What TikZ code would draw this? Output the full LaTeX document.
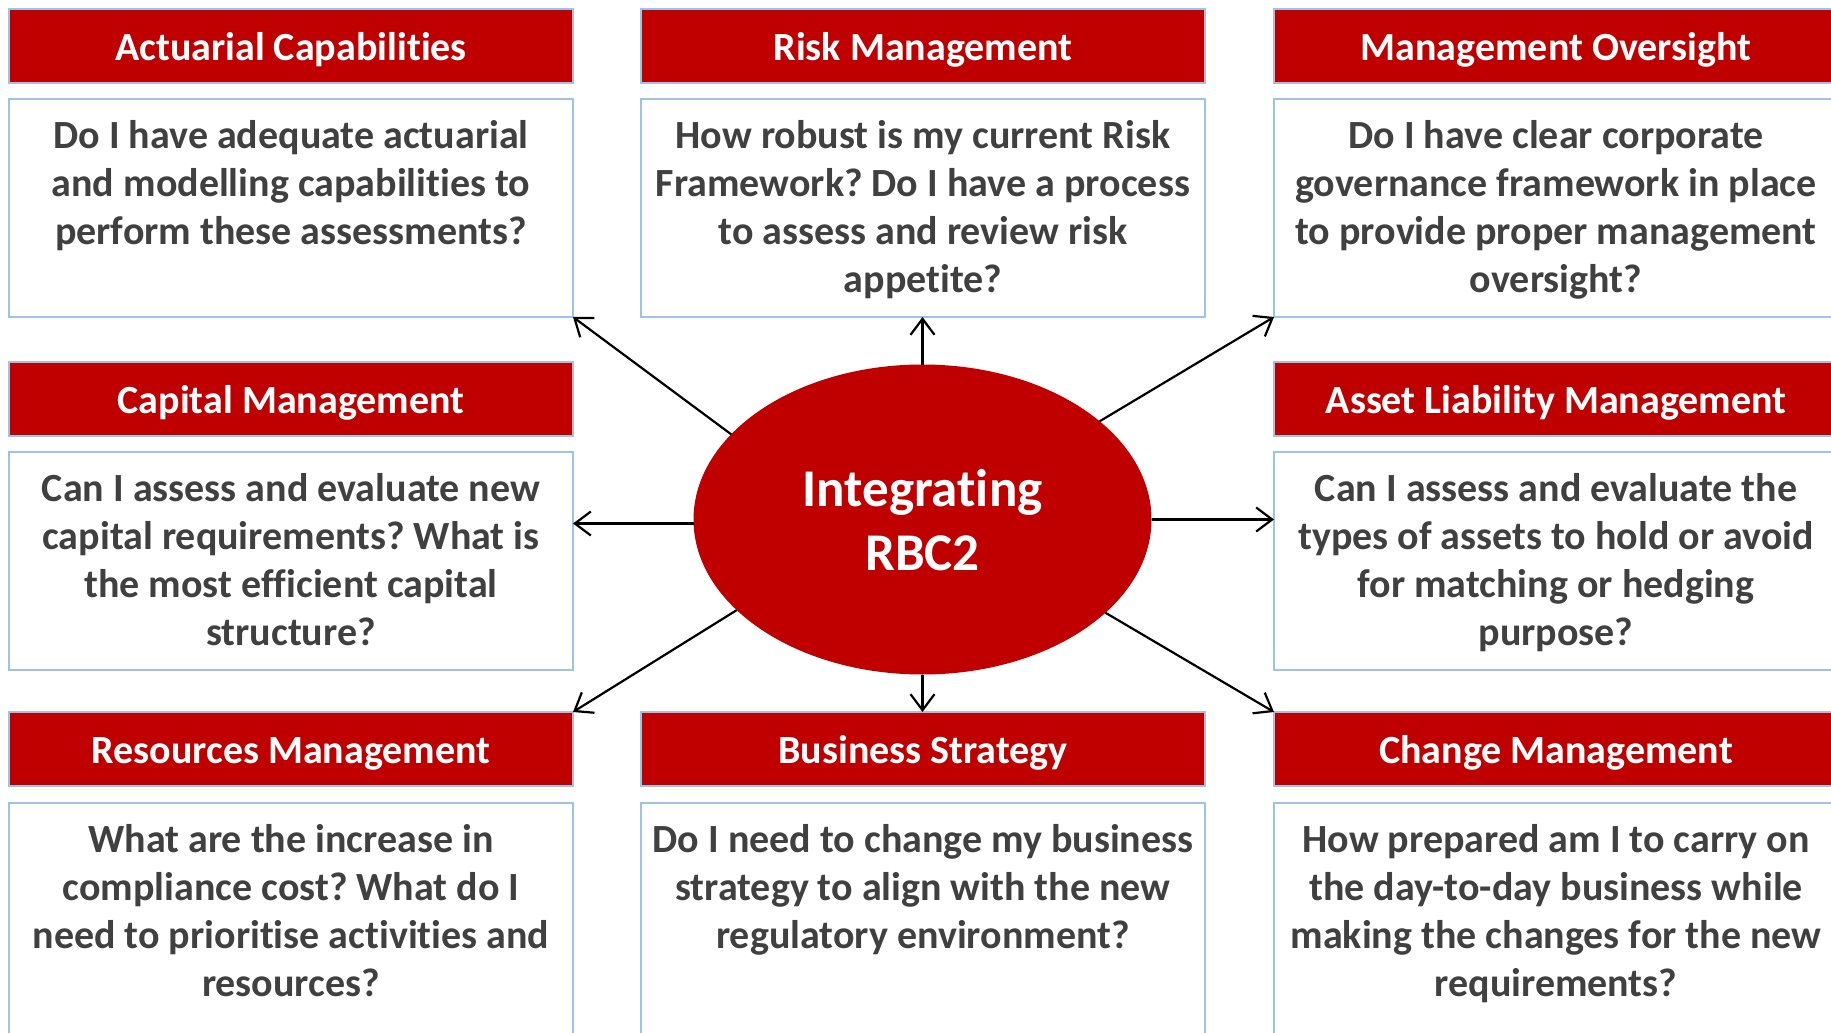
\documentclass[tikz,border=0pt]{standalone}
\usepackage{fontspec}
\setmainfont{Carlito}[Ligatures=NoCommon]
\usetikzlibrary{arrows.meta,shapes.geometric}
\definecolor{hdrred}{RGB}{192,0,0}
\definecolor{bordblue}{RGB}{157,195,230}
\definecolor{txtgray}{RGB}{64,64,64}
\frenchspacing
\begin{document}
\begin{tikzpicture}[x=1pt,y=-1pt,
  hdr/.style={draw=bordblue, line width=1.8pt, fill=hdrred, minimum width=564pt, minimum height=74pt,
    anchor=north west, inner sep=0pt, outer sep=0pt, text=white, text height=34pt, text depth=6pt,
    font=\fontsize{40}{48}\selectfont\bfseries},
  bodybox/.style={draw=bordblue, line width=1.3pt, fill=white, minimum width=564pt, minimum height=218pt,
    anchor=north west, inner sep=0pt, outer sep=0pt},
  bodytxt/.style={anchor=north, text=txtgray, align=center, inner sep=0pt,
    font=\fontsize{40}{48}\selectfont\bfseries},
  arr/.style={draw=black, line width=2.2pt, -{Straight Barb[length=16pt,width=24pt,line width=2.2pt]}}
]
\useasboundingbox (0,0) rectangle (1831,1033);
\clip (0,0) rectangle (1831,1033);
\fill[white] (0,0) rectangle (1831,1033);
\def\fst{\rule{0pt}{32pt}}

% Row 1
\node[hdr] (acth) at (9,9) {Actuarial Capabilities};
\node[bodybox] (actb) at (9,99) {};
\node[bodytxt] (actt) at (291,116) {\fst Do I have adequate actuarial\\and modelling capabilities to\\perform these assessments?};

\node[hdr] (riskh) at (641,9) {Risk Management};
\node[bodybox] (riskb) at (641,99) {};
\node[bodytxt] (riskt) at (923,116) {\fst How robust is my current Risk\\Framework? Do I have a process\\to assess and review risk\\appetite?};

\node[hdr] (mgth) at (1274,9) {Management Oversight};
\node[bodybox] (mgtb) at (1274,99) {};
\node[bodytxt] (mgtt) at (1556,116) {\fst Do I have clear corporate\\governance framework in place\\to provide proper management\\oversight?};

% Row 2
\node[hdr] (caph) at (9,362) {Capital Management};
\node[bodybox] (capb) at (9,452) {};
\node[bodytxt] (capt) at (291,469) {\fst Can I assess and evaluate new\\capital requirements? What is\\the most efficient capital\\structure?};

\node[hdr] (alh) at (1274,362) {Asset Liability Management};
\node[bodybox] (alb) at (1274,452) {};
\node[bodytxt] (alt) at (1556,469) {\fst Can I assess and evaluate the\\types of assets to hold or avoid\\for matching or hedging\\purpose?};

% Row 3
\node[hdr] (resh) at (9,712) {Resources Management};
\node[bodybox, minimum height=260pt] (resb) at (9,803) {};
\node[bodytxt] (rest) at (291,820) {\fst What are the increase in\\compliance cost? What do I\\need to prioritise activities and\\resources?};

\node[hdr] (bush) at (641,712) {Business Strategy};
\node[bodybox, minimum height=260pt] (busb) at (641,803) {};
\node[bodytxt] (bust) at (923,820) {\fst Do I need to change my business\\strategy to align with the new\\regulatory environment?};

\node[hdr] (chh) at (1274,712) {Change Management};
\node[bodybox, minimum height=260pt] (chb) at (1274,803) {};
\node[bodytxt] (cht) at (1556,820) {\fst How prepared am I to carry on\\the day-to-day business while\\making the changes for the new\\requirements?};

% Centre
\node[ellipse, fill=hdrred, minimum width=458pt, minimum height=310pt, inner sep=0pt, outer sep=0pt] (ell) at (922.5,519.5) {};
\node[anchor=north, align=center, text=white, inner sep=0pt,
  font=\fontsize{53}{64}\selectfont\bfseries] (elltxt) at (922.5,466) {\rule{0pt}{40pt}Integrating\\RBC2};

% Connectors
\draw[arr] (ell.156) -- (actb.south east);
\draw[arr] (ell.north) -- (ell.north |- riskb.south);
\draw[arr] (ell.29) -- (mgtb.south west);
\draw[arr] (ell.181) -- (ell.181 -| capb.east);
\draw[arr] (ell.east) -- (ell.east -| alb.west);
\draw[arr] (ell.206) -- (resh.north east);
\draw[arr] (ell.south) -- (ell.south |- bush.north);
\draw[arr] (ell.333) -- (chh.north west);
\end{tikzpicture}
\end{document}
